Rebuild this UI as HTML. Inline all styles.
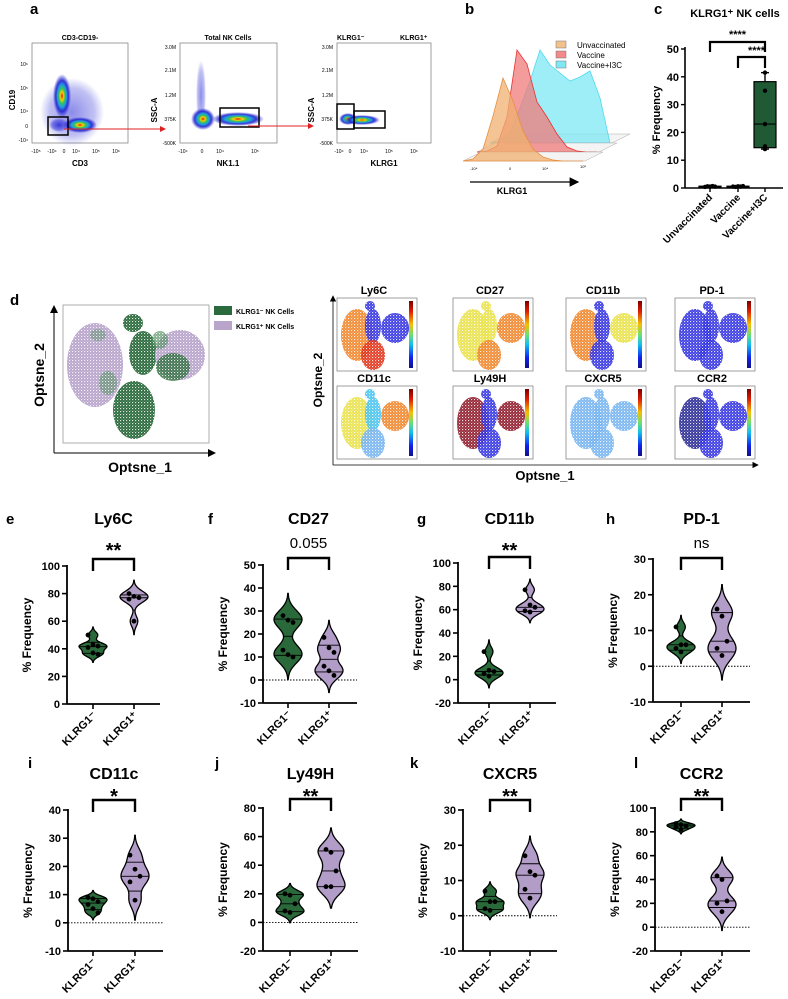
<!DOCTYPE html>
<html><head><meta charset="utf-8"><style>
html,body{margin:0;padding:0;background:#fff;width:788px;height:999px;overflow:hidden}
svg{display:block;font-family:"Liberation Sans",Arial,sans-serif}
.b{font-weight:bold}
</style></head><body>
<svg id="fig" width="788" height="999" viewBox="0 0 788 999" xmlns="http://www.w3.org/2000/svg">
<defs>
<radialGradient id="heat" cx="50%" cy="50%" r="50%">
<stop offset="0" stop-color="#e01010"/><stop offset="0.18" stop-color="#f5d000"/><stop offset="0.35" stop-color="#30c060"/><stop offset="0.5" stop-color="#20a0e0"/><stop offset="0.7" stop-color="#2020d0" stop-opacity="0.9"/><stop offset="1" stop-color="#2020d0" stop-opacity="0"/>
</radialGradient>
<radialGradient id="haze" cx="50%" cy="50%" r="50%">
<stop offset="0" stop-color="#2a2ad8" stop-opacity="0.9"/><stop offset="0.7" stop-color="#3030d8" stop-opacity="0.5"/><stop offset="1" stop-color="#3030d8" stop-opacity="0"/>
</radialGradient>
<linearGradient id="cbar" x1="0" y1="0" x2="0" y2="1">
<stop offset="0" stop-color="#7a0000"/><stop offset="0.15" stop-color="#e01a00"/><stop offset="0.35" stop-color="#f5c000"/><stop offset="0.5" stop-color="#70e070"/><stop offset="0.65" stop-color="#10c0f0"/><stop offset="0.85" stop-color="#1020f0"/><stop offset="1" stop-color="#10108a"/>
</linearGradient>
<pattern id="speck" width="3" height="3" patternUnits="userSpaceOnUse">
<rect x="0" y="0" width="1.2" height="1.2" fill="#fff" opacity="0.85"/><rect x="1.6" y="1.8" width="0.9" height="0.9" fill="#fff" opacity="0.6"/>
</pattern>
<marker id="arrR" markerWidth="6" markerHeight="6" refX="5" refY="3" orient="auto"><path d="M0,0 L6,3 L0,6z" fill="#e02020"/></marker>
<marker id="arrK" markerWidth="8" markerHeight="8" refX="7" refY="4" orient="auto"><path d="M0,0 L8,4 L0,8z" fill="#000"/></marker>
</defs>

<!-- Panel a -->
<g>
<text x="30" y="14" class="b" font-size="15">a</text>
<text x="80" y="40" class="b" font-size="7" text-anchor="middle">CD3-CD19-</text>
<text x="228" y="40" class="b" font-size="7" text-anchor="middle">Total NK Cells</text>
<text x="337" y="40" class="b" font-size="7">KLRG1⁻</text>
<text x="400" y="40" class="b" font-size="7">KLRG1⁺</text>
<g>
<rect x="32" y="43" width="96" height="100" fill="#fff" stroke="#888" stroke-width="0.8"/>
<ellipse cx="72" cy="112" rx="32" ry="34" fill="url(#haze)" opacity="0.6"/>
<ellipse cx="62" cy="96" rx="9" ry="22" fill="url(#heat)"/>
<ellipse cx="80" cy="125" rx="17" ry="8" fill="url(#heat)"/>
<ellipse cx="59" cy="125" rx="10" ry="7" fill="url(#haze)"/>
<rect x="48" y="117" width="20" height="18" fill="none" stroke="#000" stroke-width="1.5"/>
<text x="28" y="66" font-size="5" text-anchor="end">10⁶</text><text x="28" y="90" font-size="5" text-anchor="end">10⁵</text><text x="28" y="113" font-size="5" text-anchor="end">10⁴</text><text x="28" y="128" font-size="5" text-anchor="end">0</text><text x="28" y="142" font-size="5" text-anchor="end">-10⁴</text>
<text x="36" y="153" font-size="5" text-anchor="middle">-10⁵</text><text x="52" y="153" font-size="5" text-anchor="middle">-10⁴</text><text x="64" y="153" font-size="5" text-anchor="middle">0</text><text x="76" y="153" font-size="5" text-anchor="middle">10⁴</text><text x="96" y="153" font-size="5" text-anchor="middle">10⁵</text><text x="116" y="153" font-size="5" text-anchor="middle">10⁶</text>
<text x="80" y="166" class="b" font-size="8" text-anchor="middle">CD3</text>
<text x="15" y="100" class="b" font-size="8" text-anchor="middle" transform="rotate(-90 15 100)">CD19</text>
</g>
<line x1="64" y1="129" x2="165" y2="129" stroke="#e02020" stroke-width="1" marker-end="url(#arrR)"/>
<g>
<rect x="180" y="43" width="97" height="100" fill="#fff" stroke="#888" stroke-width="0.8"/>
<ellipse cx="201" cy="95" rx="5" ry="35" fill="url(#haze)" opacity="0.6"/>
<ellipse cx="203" cy="119" rx="12" ry="11" fill="url(#heat)"/>
<ellipse cx="238" cy="119" rx="26" ry="7" fill="url(#heat)"/>
<rect x="220" y="108" width="39" height="19" fill="none" stroke="#000" stroke-width="1.5"/>
<text x="176" y="49" font-size="5" text-anchor="end">3.0M</text><text x="176" y="72" font-size="5" text-anchor="end">2.1M</text><text x="176" y="97" font-size="5" text-anchor="end">1.2M</text><text x="176" y="121" font-size="5" text-anchor="end">375K</text><text x="176" y="145" font-size="5" text-anchor="end">-500K</text>
<text x="183" y="153" font-size="5" text-anchor="middle">-10⁴</text><text x="202" y="153" font-size="5" text-anchor="middle">0</text><text x="220" y="153" font-size="5" text-anchor="middle">10⁴</text><text x="255" y="153" font-size="5" text-anchor="middle">10⁵</text>
<text x="228" y="166" class="b" font-size="8" text-anchor="middle">NK1.1</text>
<text x="157" y="110" class="b" font-size="8" text-anchor="middle" transform="rotate(-90 157 110)">SSC-A</text>
</g>
<line x1="248" y1="126" x2="313" y2="126" stroke="#e02020" stroke-width="1" marker-end="url(#arrR)"/>
<g>
<rect x="337" y="43" width="94" height="100" fill="#fff" stroke="#888" stroke-width="0.8"/>
<ellipse cx="348" cy="119" rx="9" ry="6" fill="url(#heat)"/>
<ellipse cx="362" cy="120" rx="18" ry="5" fill="url(#heat)"/>
<rect x="337" y="104" width="17" height="25" fill="none" stroke="#000" stroke-width="1.5"/>
<rect x="354" y="111" width="31" height="17" fill="none" stroke="#000" stroke-width="1.5"/>
<text x="333" y="49" font-size="5" text-anchor="end">3.0M</text><text x="333" y="72" font-size="5" text-anchor="end">2.1M</text><text x="333" y="97" font-size="5" text-anchor="end">1.2M</text><text x="333" y="121" font-size="5" text-anchor="end">375K</text><text x="333" y="145" font-size="5" text-anchor="end">-500K</text>
<text x="339" y="153" font-size="5" text-anchor="middle">-10⁴</text><text x="350" y="153" font-size="5" text-anchor="middle">0</text><text x="364" y="153" font-size="5" text-anchor="middle">10⁴</text><text x="389" y="153" font-size="5" text-anchor="middle">10⁵</text><text x="414" y="153" font-size="5" text-anchor="middle">10⁶</text>
<text x="384" y="166" class="b" font-size="8" text-anchor="middle">KLRG1</text>
<text x="314" y="110" class="b" font-size="8" text-anchor="middle" transform="rotate(-90 314 110)">SSC-A</text>
</g>
</g>

<!-- Panel b -->
<g id="panelB">
<text x="465" y="14" class="b" font-size="15">b</text>
<rect x="556" y="41" width="10" height="7" fill="#f2c28e" stroke="#777" stroke-width="0.5"/>
<text x="577" y="48" font-size="8">Unvaccinated</text>
<rect x="556" y="51" width="10" height="7" fill="#f28a8a" stroke="#777" stroke-width="0.5"/>
<text x="577" y="58" font-size="8">Vaccine</text>
<rect x="556" y="61" width="10" height="7" fill="#7ee8f5" stroke="#777" stroke-width="0.5"/>
<text x="577" y="68" font-size="8">Vaccine+I3C</text>
<line x1="470" y1="182" x2="578" y2="182" stroke="#000" stroke-width="1.2" marker-end="url(#arrK)"/>
<text x="512" y="194" class="b" font-size="9" text-anchor="middle">KLRG1</text>
<text x="470" y="170" font-size="4">-10⁴</text><text x="509" y="170" font-size="4">0</text><text x="542" y="170" font-size="4">10⁴</text><text x="580" y="168" font-size="4">10⁵</text>
</g>

<!-- Panel c -->
<g id="panelC">
<text x="654" y="14" class="b" font-size="15">c</text>
<text x="735" y="17" class="b" font-size="11" text-anchor="middle">KLRG1⁺ NK cells</text>
</g>

<!-- Panel d -->
<g>
<text x="10" y="305" class="b" font-size="15">d</text>
<rect x="63" y="305" width="146" height="138" fill="#fff" stroke="#999" stroke-width="0.8"/>
<g>
<ellipse cx="95" cy="365" rx="28" ry="42" fill="#b9a5cc"/>
<ellipse cx="108" cy="383" rx="9" ry="12" fill="#4e8a5c" opacity="0.6"/>
<ellipse cx="98" cy="335" rx="8" ry="6" fill="#4e8a5c" opacity="0.5"/>
<ellipse cx="133" cy="323" rx="10" ry="9" fill="#2b6a3c"/>
<ellipse cx="143" cy="353" rx="14" ry="22" fill="#2b6a3c"/>
<ellipse cx="134" cy="410" rx="21" ry="29" fill="#2b6a3c"/>
<ellipse cx="180" cy="355" rx="25" ry="25" fill="#b9a5cc"/>
<ellipse cx="173" cy="367" rx="17" ry="14" fill="#2b6a3c" opacity="0.85"/>
<ellipse cx="160" cy="340" rx="8" ry="9" fill="#4e8a5c" opacity="0.7"/>
<rect x="64" y="306" width="144" height="136" fill="url(#speck)"/>
</g>
<line x1="54" y1="453" x2="54" y2="306" stroke="#000" stroke-width="1" marker-end="url(#arrK)"/>
<line x1="54" y1="453" x2="215" y2="453" stroke="#000" stroke-width="1" marker-end="url(#arrK)"/>
<text x="44" y="375" class="b" font-size="14" text-anchor="middle" transform="rotate(-90 44 375)">Optsne_2</text>
<text x="140" y="472" class="b" font-size="14" text-anchor="middle">Optsne_1</text>
<rect x="214" y="306" width="18" height="9" fill="#2b6a3c"/>
<text x="236" y="314" class="b" font-size="7">KLRG1⁻ NK Cells</text>
<rect x="214" y="321" width="18" height="9" fill="#b9a5cc"/>
<text x="236" y="329" class="b" font-size="7">KLRG1⁺ NK Cells</text>
<g id="smallTsne"></g>
<line x1="333" y1="465" x2="333" y2="296" stroke="#000" stroke-width="0.8" marker-end="url(#arrK)"/>
<line x1="333" y1="465" x2="758" y2="465" stroke="#000" stroke-width="0.8" marker-end="url(#arrK)"/>
<text x="322" y="380" class="b" font-size="12" text-anchor="middle" transform="rotate(-90 322 380)">Optsne_2</text>
<text x="545" y="480" class="b" font-size="13" text-anchor="middle">Optsne_1</text>
</g>

<g id="violins"></g>
</svg>
<script>
const NS="http://www.w3.org/2000/svg";
const fig=document.getElementById('fig');
function mk(tag,attrs,parent,txt){const e=document.createElementNS(NS,tag);for(const k in attrs)e.setAttribute(k,attrs[k]);if(txt!==undefined)e.textContent=txt;(parent||fig).appendChild(e);return e;}

/* ---------- Panel b histogram data (heights in px at 10px steps) ---------- */
const histUnvacc=[0,2,12,45,83,60,30,12,4,1,0,0,0];
const histVaccine=[0,1,6,35,102,88,50,35,18,5,1,0,0];
const histVaccI3C=[0,2,10,35,62,93,78,70,62,66,72,45,0];
/* ---------- Panel c data ---------- */
const cCategories=['Unvaccinated','Vaccine','Vaccine+I3C'];
const cUnvacc=[0.4,0.6,0.5,0.7,0.5];
const cVaccine=[0.5,0.4,0.6,0.5,0.7];
const cVaccI3C=[41.5,35,23,15,14];
const cTicks=[0,10,20,30,40,50];
/* ---------- Violin data ---------- */
const ly6cNeg=[50,43,42,41,37,36], ly6cPos=[80,78,77,76,60];
const cd27Neg=[28,26,25,13,11,10], cd27Pos=[18.5,14,12,6,4,2];
const cd11bNeg=[24,8,7,5,3], cd11bPos=[77,64,62,59,58];
const pd1Neg=[11,6,6,5,4], pd1Pos=[16,14,7,5,3];
const cd11cNeg=[9,8.5,7.5,6.5,5,3.5], cd11cPos=[24,19,16.5,14.5,8];
const ly49hNeg=[20,19,13,8,7], ly49hPos=[51,49,36,25,25];
const cxcr5Neg=[7,4,4,2,1.5], cxcr5Pos=[17,12.5,11.5,7.5,5];
const ccr2Neg=[87,86,85,84,82], ccr2Pos=[43,40,22,20,13];
const violinTitles=['Ly6C','CD27','CD11b','PD-1','CD11c','Ly49H','CXCR5','CCR2'];
const violinSig=['**','0.055','**','ns','*','**','**','**'];
const violinCats=['KLRG1⁻','KLRG1⁺'];

/* ---------- draw panel b ---------- */
(function(){
  const g=document.getElementById('panelB');
  const layers=[
    {d:histVaccI3C,x0:490,y0:143,fill:'#7ee8f5',stroke:'#4fd8ee',name:'histogram-vaccine-i3c'},
    {d:histVaccine,x0:477,y0:152,fill:'#f07a7a',stroke:'#e83030',name:'histogram-vaccine'},
    {d:histUnvacc,x0:463,y0:161,fill:'#f0b070',stroke:'#e89040',name:'histogram-unvaccinated'}];
  layers.forEach(L=>{
    mk('polygon',{points:`${L.x0},${L.y0} ${L.x0+122},${L.y0} ${L.x0+140},${L.y0-9} ${L.x0+18},${L.y0-9}`,fill:'#f4f4f4',stroke:'#aaa','stroke-width':0.5},g);
    let p=`M${L.x0},${L.y0}`;
    L.d.forEach((v,i)=>{p+=` L${L.x0+i*10},${L.y0-v}`;});
    p+=` L${L.x0+(L.d.length-1)*10},${L.y0} Z`;
    const e=mk('path',{d:p,fill:L.fill,'fill-opacity':0.75,stroke:L.stroke,'stroke-width':0.8},g);
    
    
  });
})();

/* ---------- draw panel c ---------- */
(function(){
  const g=document.getElementById('panelC');
  const ax=685,yt=49,yb=188,xr=783,vmax=50,vmin=0;
  const y=v=>yb-(v-vmin)/(vmax-vmin)*(yb-yt);
  const cx=[710,738,765];
  mk('line',{x1:ax,y1:yt-2,x2:ax,y2:yb,stroke:'#000','stroke-width':1.6},g);
  mk('line',{x1:ax,y1:yb,x2:xr,y2:yb,stroke:'#000','stroke-width':1.6},g);
  cTicks.forEach(t=>{
    mk('line',{x1:ax-4,y1:y(t),x2:ax,y2:y(t),stroke:'#000','stroke-width':1.4},g);
    const e=mk('text',{x:ax-6,y:y(t)+4,'font-size':11,'font-weight':'bold','text-anchor':'end'},g,String(t));
    
    
  });
  const yl=mk('text',{x:660,y:120,'font-size':11,'font-weight':'bold','text-anchor':'middle',transform:'rotate(-90 660 120)'},g,'% Frequency');
  
  
  cCategories.forEach((c,i)=>{
    mk('line',{x1:cx[i],y1:yb,x2:cx[i],y2:yb+4,stroke:'#000','stroke-width':1.4},g);
    const e=mk('text',{x:cx[i]+3,y:yb+10,'font-size':10,'font-weight':'bold','text-anchor':'end',transform:`rotate(-45 ${cx[i]+3} ${yb+10})`},g,c);
    
    
  });
  const sets=[cUnvacc,cVaccine,cVaccI3C];
  sets.forEach((s,i)=>{
    const so=[...s].sort((a,b)=>a-b),n=so.length;
    const q=p=>{const pos=p*(n+1)-1;const lo=Math.max(0,Math.floor(pos)),hi=Math.min(n-1,Math.ceil(pos));return so[lo]+(so[hi]-so[lo])*(pos-lo);};
    const q1=q(0.25),md=q(0.5),q3=q(0.75),mn=so[0],mx=so[n-1];
    const bw=11;
    mk('line',{x1:cx[i],y1:y(mx),x2:cx[i],y2:y(mn),stroke:'#000','stroke-width':1.4},g);
    mk('line',{x1:cx[i]-4,y1:y(mx),x2:cx[i]+4,y2:y(mx),stroke:'#000','stroke-width':1.4},g);
    mk('line',{x1:cx[i]-4,y1:y(mn),x2:cx[i]+4,y2:y(mn),stroke:'#000','stroke-width':1.4},g);
    const b=mk('rect',{x:cx[i]-bw,y:y(q3),width:2*bw,height:Math.max(1,y(q1)-y(q3)),fill:'#1f5a34',stroke:'#000','stroke-width':1.2},g);
    
    
    mk('line',{x1:cx[i]-bw,y1:y(md),x2:cx[i]+bw,y2:y(md),stroke:'#000','stroke-width':1.2},g);
    s.forEach((v,j)=>{
      const d=mk('circle',{cx:cx[i]+(i<2?(j-2)*2.5:0),cy:y(v),r:2.2,fill:'#000'},g);
      
      
    });
  });
  mk('path',{d:`M${cx[0]},52 L${cx[0]},42 L${cx[2]},42 L${cx[2]},52`,fill:'none',stroke:'#000','stroke-width':2.2},g);
  mk('text',{x:(cx[0]+cx[2])/2,y:38,'font-size':11,'font-weight':'bold','text-anchor':'middle'},g,'****');
  mk('path',{d:`M${cx[1]},68 L${cx[1]},57 L${cx[2]},57 L${cx[2]},68`,fill:'none',stroke:'#000','stroke-width':2.2},g);
  mk('text',{x:(cx[1]+cx[2])/2+5,y:54,'font-size':11,'font-weight':'bold','text-anchor':'middle'},g,'****');
})();

/* ---------- small tSNE marker plots (decorative) ---------- */
(function(){
  const g=document.getElementById('smallTsne');
  const B='#2a2ae0',R='#e02a10',O='#f08020',Y='#e8e040',G='#90e060',C='#40c0f0',LB='#70b0f0',DB='#202090',DR='#8a1020';
  const plots=[
    {t:'Ly6C',x:337,y:298,c:[O,B,R,B]},{t:'CD27',x:453,y:298,c:[Y,Y,O,O]},
    {t:'CD11b',x:566,y:298,c:[O,B,B,Y]},{t:'PD-1',x:675,y:298,c:[B,B,B,B]},
    {t:'CD11c',x:337,y:386,c:[Y,C,LB,O]},{t:'Ly49H',x:453,y:386,c:[DR,B,B,DR]},
    {t:'CXCR5',x:566,y:386,c:[LB,LB,LB,LB]},{t:'CCR2',x:675,y:386,c:[DB,B,B,B]}];
  plots.forEach(p=>{
    const sg=mk('g',{},g);
    
    
    mk('rect',{x:p.x,y:p.y,width:80,height:73,fill:'#fff',stroke:'#888','stroke-width':0.8},sg);
    mk('ellipse',{cx:p.x+20,cy:p.y+37,rx:16,ry:26,fill:p.c[0],opacity:0.9},sg);
    mk('ellipse',{cx:p.x+36,cy:p.y+28,rx:8,ry:17,fill:p.c[1],opacity:0.9},sg);
    mk('ellipse',{cx:p.x+33,cy:p.y+8,rx:5,ry:5,fill:p.c[1],opacity:0.9},sg);
    mk('ellipse',{cx:p.x+36,cy:p.y+57,rx:12,ry:15,fill:p.c[2],opacity:0.9},sg);
    mk('ellipse',{cx:p.x+58,cy:p.y+30,rx:14,ry:15,fill:p.c[3],opacity:0.9},sg);
    mk('rect',{x:p.x+1,y:p.y+1,width:70,height:71,fill:'url(#speck)'},sg);
    mk('rect',{x:p.x+72,y:p.y+3,width:4,height:67,fill:'url(#cbar)'},sg);
    const t=mk('text',{x:p.x+37,y:p.y-4,'font-size':11,'font-weight':'bold','text-anchor':'middle'},sg,p.t);
    
    
  });
})();

/* ---------- violin panels ---------- */
(function(){
  const root=document.getElementById('violins');
  const data=[[ly6cNeg,ly6cPos],[cd27Neg,cd27Pos],[cd11bNeg,cd11bPos],[pd1Neg,pd1Pos],[cd11cNeg,cd11cPos],[ly49hNeg,ly49hPos],[cxcr5Neg,cxcr5Pos],[ccr2Neg,ccr2Pos]];
  const cfg=[
    {L:'e',lx:6,ly:524,ax:67,yt:566,yb:704,xr:160,c1:93,c2:134,mn:0,mx:100,st:20,dot:false,ty:524,sy:553,by:559},
    {L:'f',lx:208,ly:524,ax:263,yt:565,yb:703,xr:357,c1:288,c2:329,mn:-10,mx:50,st:10,dot:true,ty:524,sy:550,by:558},
    {L:'g',lx:417,ly:524,ax:458,yt:563,yb:703,xr:556,c1:489,c2:530,mn:-20,mx:100,st:20,dot:false,ty:524,sy:553,by:557},
    {L:'h',lx:606,ly:524,ax:653,yt:559,yb:702,xr:750,c1:681,c2:722,mn:-10,mx:30,st:10,dot:true,ty:524,sy:550,by:558},
    {L:'i',lx:28,ly:768,ax:68,yt:810,yb:951,xr:163,c1:93,c2:135,mn:-10,mx:40,st:10,dot:true,ty:779,sy:799,by:800},
    {L:'j',lx:215,ly:768,ax:263,yt:808,yb:951,xr:358,c1:290,c2:331,mn:-20,mx:80,st:20,dot:true,ty:779,sy:799,by:799},
    {L:'k',lx:410,ly:768,ax:463,yt:810,yb:951,xr:557,c1:490,c2:530,mn:-10,mx:30,st:10,dot:true,ty:779,sy:799,by:800},
    {L:'l',lx:634,ly:768,ax:655,yt:808,yb:951,xr:750,c1:681,c2:722,mn:-20,mx:100,st:20,dot:true,ty:779,sy:799,by:799}];
  const fills=['#2a6a3a','#b29cc8'];
  cfg.forEach((c,pi)=>{
    const g=mk('g',{},root);
    
    
    const y=v=>c.yb-(v-c.mn)/(c.mx-c.mn)*(c.yb-c.yt);
    const lt=mk('text',{x:c.lx,y:c.ly,'font-size':15,'font-weight':'bold'},g,c.L);
    
    
    const tt=mk('text',{x:(c.c1+c.c2)/2,y:c.ty,'font-size':16,'font-weight':'bold','text-anchor':'middle'},g,violinTitles[pi]);
    
    
    const sig=violinSig[pi],isStar=sig.indexOf('*')>=0;
    const st=mk('text',{x:(c.c1+c.c2)/2,y:isStar?c.sy+4:c.sy-2,'font-size':isStar?20:15,'font-weight':isStar?'bold':'normal','text-anchor':'middle'},g,sig);
    
    
    mk('path',{d:`M${c.c1},${c.by+12} L${c.c1},${c.by} L${c.c2},${c.by} L${c.c2},${c.by+12}`,fill:'none',stroke:'#000','stroke-width':2.4},g);
    mk('line',{x1:c.ax,y1:c.yt-1,x2:c.ax,y2:c.yb,stroke:'#000','stroke-width':1.8},g);
    mk('line',{x1:c.ax,y1:c.yb,x2:c.xr,y2:c.yb,stroke:'#000','stroke-width':1.8},g);
    for(let t=c.mn;t<=c.mx+1e-9;t+=c.st){
      mk('line',{x1:c.ax-5,y1:y(t),x2:c.ax,y2:y(t),stroke:'#000','stroke-width':1.6},g);
      const e=mk('text',{x:c.ax-7,y:y(t)+4,'font-size':11,'font-weight':'bold','text-anchor':'end'},g,String(t));
      
      
    }
    if(c.dot) mk('line',{x1:c.ax,y1:y(0),x2:c.xr,y2:y(0),stroke:'#000','stroke-width':0.9,'stroke-dasharray':'1.5,1.5'},g);
    const my=(c.yt+c.yb)/2, yx=c.ax-36;
    const yl=mk('text',{x:yx,y:my,'font-size':12,'font-weight':'bold','text-anchor':'middle',transform:`rotate(-90 ${yx} ${my})`},g,'% Frequency');
    
    
    [c.c1,c.c2].forEach((cx,k)=>{
      mk('line',{x1:cx,y1:c.yb,x2:cx,y2:c.yb+5,stroke:'#000','stroke-width':1.6},g);
      const e=mk('text',{x:cx+4,y:c.yb+12,'font-size':11,'font-weight':'bold','text-anchor':'end',transform:`rotate(-45 ${cx+4} ${c.yb+12})`},g,violinCats[k]);
      
      
      const vals=data[pi][k],n=vals.length;
      const mean=vals.reduce((a,b)=>a+b,0)/n;
      const sd=Math.sqrt(vals.reduce((a,b)=>a+(b-mean)*(b-mean),0)/(n-1))||1;
      const bw=Math.max(0.6*1.06*sd*Math.pow(n,-0.2),(c.mx-c.mn)*0.012);
      const lo=Math.min(...vals)-2.6*bw,hi=Math.max(...vals)+2.6*bw;
      const dens=v=>vals.reduce((a,b)=>a+Math.exp(-0.5*((v-b)/bw)**2),0);
      const N=60,pts=[];let dm=0;
      for(let i=0;i<=N;i++){const v=lo+(hi-lo)*i/N;const d=dens(v);pts.push([v,d]);if(d>dm)dm=d;}
      const W=14;const hw=v=>dens(v)/dm*W;
      let p='';
      pts.forEach(([v,d],i)=>{p+=(i?' L':'M')+(cx+d/dm*W).toFixed(2)+','+y(v).toFixed(2);});
      for(let i=N;i>=0;i--){const [v,d]=pts[i];p+=' L'+(cx-d/dm*W).toFixed(2)+','+y(v).toFixed(2);}
      p+=' Z';
      mk('line',{x1:cx,y1:y(hi),x2:cx,y2:y(lo),stroke:'#000','stroke-width':1.5},g);
      const vp=mk('path',{d:p,fill:fills[k],stroke:'#000','stroke-width':1.3},g);
      
      
      const so=[...vals].sort((a,b)=>a-b);
      const q=pp=>{const pos=pp*(n+1)-1;const l=Math.max(0,Math.min(n-1,Math.floor(pos))),h=Math.max(0,Math.min(n-1,Math.ceil(pos)));return so[l]+(so[h]-so[l])*(Math.max(0,pos)-l);};
      [q(0.25),q(0.5),q(0.75)].forEach(v=>{const w=hw(v);mk('line',{x1:cx-w,y1:y(v),x2:cx+w,y2:y(v),stroke:'#000','stroke-width':0.9},g);});
      vals.forEach((v,j)=>{
        const off=((j%3)-1)*5;
        const d=mk('circle',{cx:cx+off,cy:y(v),r:2.4,fill:'#000'},g);
        
        
      });
    });
  });
})();
</script>
</body></html>
